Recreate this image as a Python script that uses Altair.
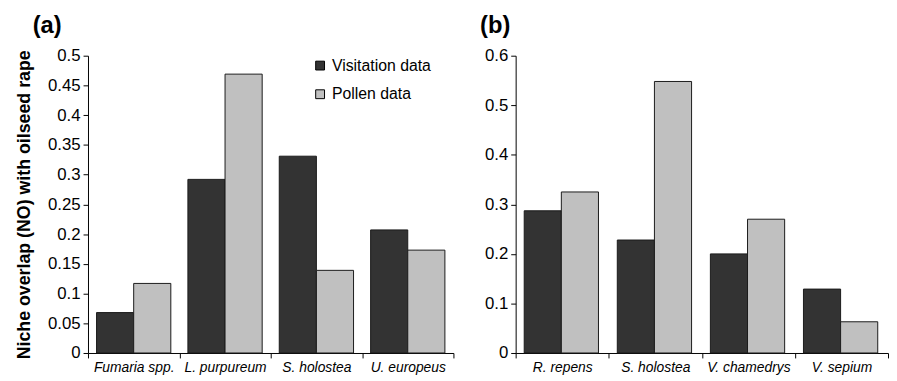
import altair as alt
import pandas as pd

series = ["Visitation data", "Pollen data"]
colors = ["#333333", "#c0c0c0"]

species_a = ["Fumaria spp.", "L. purpureum", "S. holostea", "U. europeus"]
visit_a = [0.068, 0.292, 0.331, 0.207]
pollen_a = [0.117, 0.469, 0.139, 0.173]
ticks_a = [0, 0.05, 0.1, 0.15, 0.2, 0.25, 0.3, 0.35, 0.4, 0.45, 0.5]

species_b = ["R. repens", "S. holostea", "V. chamedrys", "V. sepium"]
visit_b = [0.287, 0.228, 0.200, 0.129]
pollen_b = [0.325, 0.548, 0.270, 0.063]
ticks_b = [0, 0.1, 0.2, 0.3, 0.4, 0.5, 0.6]

FONT = "Liberation Sans"


def make_df(species, v, p):
    rows = []
    for s, a, b in zip(species, v, p):
        rows.append({"species": s, "series": series[0], "value": a})
        rows.append({"species": s, "series": series[1], "value": b})
    return pd.DataFrame(rows)


def panel(df, species, ymax, yticks, width, height, legend, title_text, ytitle, title_dx, title_offset):
    y_axis_kwargs = dict(values=yticks, format="~g", grid=False, tickSize=5,
                         labelFontSize=17, labelPadding=3, domainColor="#000",
                         tickColor="#000", labelColor="#000", labelFont=FONT)
    if ytitle:
        y_axis_kwargs.update(title=ytitle, titleFontSize=18, titleFontWeight="bold",
                             titlePadding=14, titleFont=FONT, titleColor="#000")
    else:
        y_axis_kwargs.update(title=None)
    return alt.Chart(df).mark_bar(stroke="#1a1a1a", strokeWidth=1).encode(
        x=alt.X("species:N", sort=species,
                scale=alt.Scale(paddingInner=0, paddingOuter=0),
                axis=alt.Axis(title=None, labelAngle=0, tickBand="extent",
                              labelFontStyle="italic", labelFontSize=14,
                              labelFont=FONT, labelColor="#000", tickSize=5,
                              labelPadding=3, domainColor="#000", tickColor="#000",
                              grid=False)),
        xOffset=alt.XOffset("series:N", sort=series,
                            scale=alt.Scale(paddingInner=0, paddingOuter=0.23)),
        y=alt.Y("value:Q", scale=alt.Scale(domain=[0, ymax], nice=False),
                axis=alt.Axis(**y_axis_kwargs)),
        color=alt.Color("series:N", sort=series,
                        scale=alt.Scale(domain=series, range=colors),
                        legend=legend),
    ).properties(
        width=width, height=height,
        title=alt.TitleParams(title_text, anchor="start", frame="group", dx=title_dx,
                              offset=title_offset, fontSize=24, fontWeight="bold",
                              font=FONT, color="#000"),
    )


legend_a = alt.Legend(title=None, orient="none", legendX=227, legendY=2,
                      symbolType="square", symbolSize=80, symbolStrokeColor="#000",
                      symbolStrokeWidth=1, labelFontSize=16, labelFont=FONT,
                      labelColor="#000", rowPadding=13, labelOffset=4)

chart_a = panel(make_df(species_a, visit_a, pollen_a), species_a, 0.5, ticks_a,
                370, 301, legend_a, "(a)", "Niche overlap (NO) with oilseed rape",
                -56, 9)
chart_b = panel(make_df(species_b, visit_b, pollen_b), species_b, 0.6, ticks_b,
                377, 301, None, "(b)", None, -36, 9)

chart = alt.hconcat(chart_a, chart_b, spacing=26).properties(
    padding={"left": 7, "top": 4, "right": 0, "bottom": 0}
).configure_view(stroke=None).configure_concat(spacing=26)

chart.save("out.html", embed_options={"renderer": "svg", "actions": False})
